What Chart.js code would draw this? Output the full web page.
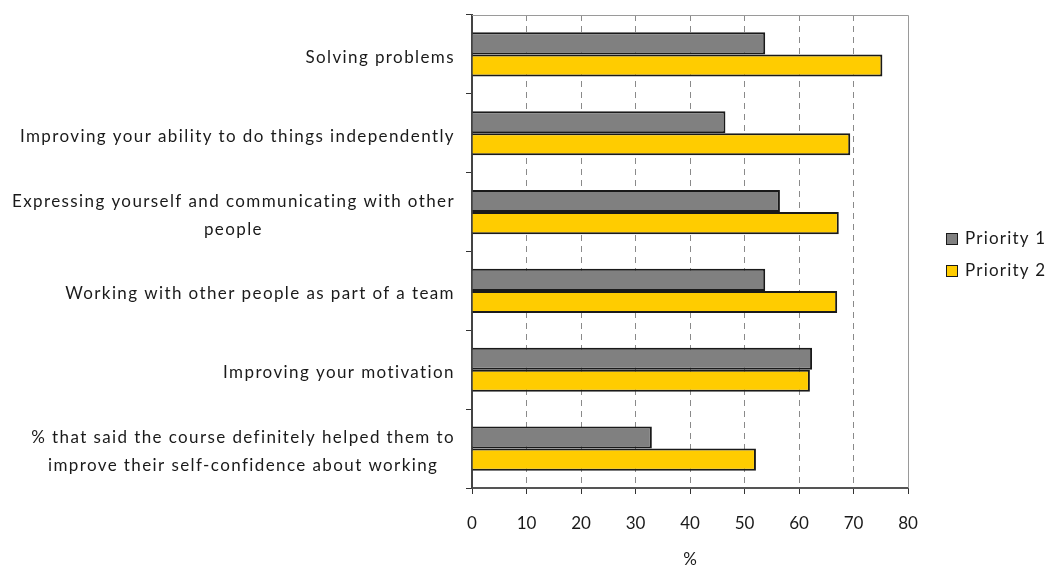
<!DOCTYPE html>
<html>
<head>
<meta charset="utf-8">
<script src="https://cdn.jsdelivr.net/npm/chart.js@4/dist/chart.umd.min.js"></script>
<style>
  html, body { margin: 0; padding: 0; background: #fff; }
  #wrap { width: 1050px; height: 567px; position: relative; }
</style>
</head>
<body>
<div id="wrap"><canvas id="skillsChart"></canvas></div>
<script>
// ---------- Data ---------- //
const categories = [
  ["Solving problems"],
  ["Improving your ability to do things independently"],
  ["Expressing yourself and communicating with other", "people"],
  ["Working with other people as part of a team"],
  ["Improving your motivation"],
  ["% that said the course definitely helped them to", "improve their self-confidence about working"]
];
const seriesNames = ["Priority 1", "Priority 2"];
const priority1 = [53.8, 46.5, 56.5, 53.8, 62.4, 33.0];
const priority2 = [75.3, 69.4, 67.3, 67.0, 62.0, 52.1];
const xTicks = [0, 10, 20, 30, 40, 50, 60, 70, 80];

const barColors = ['#808080', '#ffcc00'];
const textColor = '#1a1a1a';
const fontFamily = 'Lato, "Open Sans", sans-serif';
const labelFont = '17px ' + fontFamily;

// Category labels: block right-aligned against the axis, lines centred inside the block
const categoryLabels = {
  id: 'categoryLabels',
  afterDraw(chart) {
    const ctx = chart.ctx;
    const yScale = chart.scales.y;
    const right = chart.chartArea.left - 17;
    const lineH = 28;
    ctx.save();
    ctx.font = labelFont;
    ctx.letterSpacing = '1.4px';
    ctx.fillStyle = textColor;
    ctx.textAlign = 'center';
    ctx.textBaseline = 'middle';
    categories.forEach((lines, i) => {
      const widest = Math.max(...lines.map(l => ctx.measureText(l).width));
      const cx = right - widest / 2;
      const cy = yScale.getPixelForValue(i) + 3;
      const top = cy - (lines.length - 1) * lineH / 2;
      lines.forEach((line, j) => ctx.fillText(line, cx, top + j * lineH));
    });
    ctx.restore();
  }
};

// Grey frame on top and right of the plot area
const plotFrame = {
  id: 'plotFrame',
  beforeDatasetsDraw(chart) {
    const { ctx, chartArea: a } = chart;
    ctx.save();
    ctx.strokeStyle = '#9a9a9a';
    ctx.lineWidth = 1;
    ctx.beginPath();
    ctx.moveTo(a.left, a.top + 0.5);
    ctx.lineTo(a.right + 0.5, a.top + 0.5);
    ctx.lineTo(a.right + 0.5, a.bottom);
    ctx.stroke();
    ctx.restore();
  }
};

// Legend on the right with small outlined squares
const sideLegend = {
  id: 'sideLegend',
  afterDraw(chart) {
    const ctx = chart.ctx;
    ctx.save();
    ctx.font = labelFont;
    ctx.letterSpacing = '1.2px';
    ctx.textBaseline = 'middle';
    chart.data.datasets.forEach((ds, i) => {
      const y = 239 + i * 32;
      ctx.fillStyle = ds.backgroundColor;
      ctx.fillRect(947, y - 5, 10, 10);
      ctx.strokeStyle = textColor;
      ctx.lineWidth = 1;
      ctx.strokeRect(946.5, y - 5.5, 11, 11);
      ctx.fillStyle = textColor;
      ctx.fillText(ds.label, 965, y);
    });
    ctx.restore();
  }
};

const ctx = document.getElementById('skillsChart').getContext('2d');
new Chart(ctx, {
  type: 'bar',
  data: {
    labels: categories.map(c => c.join(' ')),
    datasets: [priority1, priority2].map((values, i) => ({
      label: seriesNames[i],
      data: values,
      backgroundColor: barColors[i],
      borderColor: textColor,
      borderWidth: 2,
      categoryPercentage: 0.56,
      barPercentage: 1.0
    }))
  },
  options: {
    indexAxis: 'y',
    responsive: true,
    maintainAspectRatio: false,
    animation: false,
    layout: { padding: { top: 15, right: 142, left: 0, bottom: 0 } },
    scales: {
      x: {
        min: 0,
        max: 80,
        afterBuildTicks(scale) { scale.ticks = xTicks.map(v => ({ value: v })); },
        afterFit(scale) { scale.height = 79; },
        grid: {
          color: c => (c.tick && (c.tick.value === 0 || c.tick.value === 80)) ? 'rgba(0,0,0,0)' : '#8a8a8a',
          lineWidth: 1,
          drawTicks: true,
          tickLength: 6,
          tickColor: '#333',
          tickBorderDash: []
        },
        border: { display: true, color: '#555', width: 2, dash: [6, 5] },
        ticks: {
          color: textColor,
          font: { family: fontFamily, size: 17 },
          padding: 19,
          maxRotation: 0
        },
        title: {
          display: true,
          text: '%',
          color: textColor,
          font: { family: fontFamily, size: 17 },
          padding: { top: 0, bottom: -3 }
        }
      },
      y: {
        afterFit(scale) { scale.width = 472; },
        grid: {
          drawOnChartArea: false,
          drawTicks: true,
          tickLength: 6,
          tickColor: '#333',
          offset: true
        },
        border: { display: true, color: '#444', width: 2 },
        ticks: { display: false }
      }
    },
    plugins: {
      legend: { display: false },
      tooltip: { enabled: false }
    }
  },
  plugins: [plotFrame, categoryLabels, sideLegend]
});
</script>
</body>
</html>
